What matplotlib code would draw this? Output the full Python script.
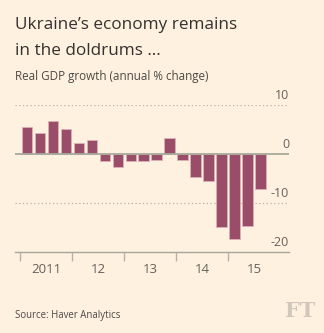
import matplotlib.pyplot as plt
import numpy as np

# quarterly real GDP growth, 2011 Q1 - 2015 Q3
gdp_growth = [5.5, 4.3, 6.7, 5.1, 2.4, 3.0,
              -1.4, -2.5, -1.4, -1.3, -1.2, 3.3,
              -1.2, -4.6, -5.5, -14.8, -17.2, -14.6, -7.1]
year_labels = ['2011', '12', '13', '14', '15']
y_ticks = [10, 0, -10, -20]

bg = '#fff1e0'
bar_color = '#9a4d68'
text_grey = '#66605c'


def main():
    fig = plt.figure(figsize=(3.24, 3.33), dpi=100, facecolor=bg)
    ax = fig.add_axes([0.0463, 0.2423, 0.8457, 0.4415], facecolor=bg)

    x = np.arange(len(gdp_growth))
    ax.bar(x, gdp_growth, width=0.78, color=bar_color,
           edgecolor='#dcb0b4', linewidth=0.6, zorder=3)

    ax.set_xlim(-0.9, 20.2)
    ax.set_ylim(-20, 10)

    # gridlines + right-hand labels sitting on top of the lines
    for v in y_ticks:
        if v == 0:
            ax.axhline(0, color='#a8a89a', lw=1.3, zorder=4)
        elif v == -20:
            pass
        else:
            ax.axhline(v, color='#b8b0a8', lw=0.9, ls=(0, (1, 2)), zorder=1)
        ax.text(20.2, v + 0.6, str(v), ha='right', va='bottom',
                fontsize=9, color=text_grey, family='Open Sans')

    for s in ['top', 'right', 'left']:
        ax.spines[s].set_visible(False)
    ax.spines['bottom'].set_color('#a8a59b')
    ax.spines['bottom'].set_linewidth(1.0)
    ax.set_yticks([])

    # year boundaries as ticks, labels centred in each year
    ax.set_xticks([-0.5, 3.5, 7.5, 11.5, 15.5])
    ax.set_xticks([1.5, 5.5, 9.5, 13.5, 17.5], minor=True)
    ax.set_xticklabels([])
    ax.set_xticklabels(year_labels, minor=True, fontsize=9.5,
                       color=text_grey, family='Open Sans')
    ax.tick_params(axis='x', which='major', length=6.5, width=1.0,
                   color='#b8b0a8')
    ax.tick_params(axis='x', which='minor', length=0, pad=8)

    fig.text(0.046, 0.912, "Ukraine\u2019s economy remains", fontsize=12.3,
             color='#33302e', family='Open Sans', va='baseline')
    fig.text(0.046, 0.834, "in the doldrums \u2026", fontsize=12.3,
             color='#33302e', family='Open Sans', va='baseline')
    fig.text(0.046, 0.76, "Real GDP growth (annual % change)", fontsize=8.4,
             color='#4d4845', family='Open Sans', va='baseline')
    fig.text(0.046, 0.044, "Source: Haver Analytics", fontsize=6.9,
             color='#4d4845', family='Open Sans', va='baseline')
    fig.text(0.972, 0.049, "FT", fontsize=15, color='#d2c7bd',
             family='DejaVu Serif', weight='bold', ha='right', va='baseline')

    fig.savefig('out.png', dpi=100, facecolor=bg)
    plt.close()


if __name__ == "__main__":
    main()
